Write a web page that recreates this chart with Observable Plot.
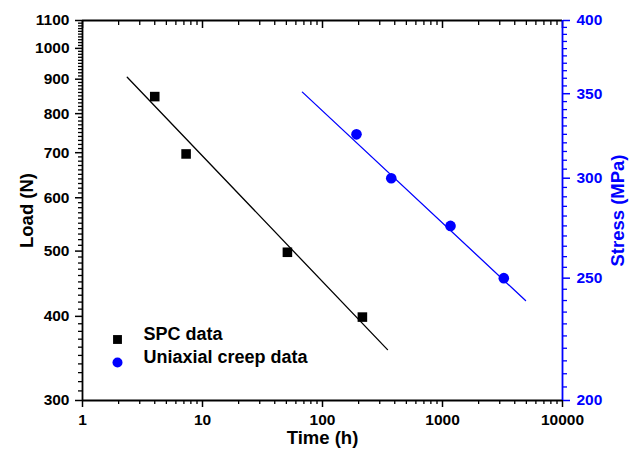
<!DOCTYPE html>
<html><head><meta charset="utf-8">
<script src="https://cdn.jsdelivr.net/npm/d3@7"></script>
<script src="https://cdn.jsdelivr.net/npm/@observablehq/plot@0.6"></script>
<style>body{margin:0;background:#fff;font-family:"Liberation Sans",Arial,sans-serif}</style>
</head><body><div id="chart"></div>
<script>
// ---- data ----
const spcTime = [4.0, 7.3, 51, 215];
const spcLoad = [848, 697, 498, 399];
const spcFitTime = [2.36, 348];
const spcFitLoad = [906, 357];
const creepTime = [192, 374, 1166, 3243];
const creepStress = [325, 300, 275, 250];
const creepFitTime = [68, 4920];
const creepFitStress = [351, 240];
const xTicks = [1, 10, 100, 1000, 10000];
const loadTicks = [300, 400, 500, 600, 700, 800, 900, 1000, 1100];
const stressTicks = [200, 250, 300, 350, 400];
const legendLabels = ["SPC data", "Uniaxial creep data"];
const xTitle = "Time (h)", yTitle = "Load (N)", y2Title = "Stress (MPa)";

const loadDomain = [300, 1100], stressDomain = [200, 400];
const toLoad = s => loadDomain[0] * Math.pow(loadDomain[1] / loadDomain[0], Math.log(s / stressDomain[0]) / Math.log(stressDomain[1] / stressDomain[0]));
const toStress = l => stressDomain[0] * Math.pow(stressDomain[1] / stressDomain[0], Math.log(l / loadDomain[0]) / Math.log(loadDomain[1] / loadDomain[0]));

// minor tick positions
const xMinor = [];
for (const dec of [1, 10, 100, 1000]) for (let k = 2; k <= 9; k++) xMinor.push(dec * k);
const loadMinor = d3.range(310, 1100, 10).filter(v => v % 100 !== 0);
const stressMinor = d3.range(205, 400, 5).filter(v => v % 50 !== 0).map(toLoad);

const spc = spcTime.map((t, i) => ({t, v: spcLoad[i]}));
const spcFit = spcFitTime.map((t, i) => ({t, v: spcFitLoad[i]}));
const creep = creepTime.map((t, i) => ({t, v: toLoad(creepStress[i])}));
const creepFit = creepFitTime.map((t, i) => ({t, v: toLoad(creepFitStress[i])}));

const BLUE = "#0000ff";
const FONT = '"Liberation Sans", Arial, sans-serif';
const blank = () => "";

const chart = Plot.plot({
  width: 631, height: 455,
  marginLeft: 82, marginRight: 69, marginTop: 20, marginBottom: 55,
  style: {fontFamily: FONT, fontWeight: "bold", background: "white", color: "black", overflow: "visible"},
  x: {type: "log", domain: [1, 10000]},
  y: {type: "log", domain: loadDomain},
  marks: [
    // bottom axis
    Plot.axisX(xMinor, {anchor: "bottom", tickSize: 4, tickFormat: blank, label: null, strokeWidth: 1.3}),
    Plot.axisX(xTicks, {anchor: "bottom", tickSize: 7, tickPadding: 6, tickFormat: d => String(d), label: null, fontSize: 15.5, strokeWidth: 1.5}),
    // top ticks (inward)
    Plot.axisX(xMinor, {anchor: "top", tickSize: -4, tickFormat: blank, label: null, strokeWidth: 1.3}),
    Plot.axisX(xTicks, {anchor: "top", tickSize: -7, tickFormat: blank, label: null, strokeWidth: 1.5}),
    // left axis
    Plot.axisY(loadMinor, {anchor: "left", tickSize: 4, tickFormat: blank, label: null, strokeWidth: 1.3}),
    Plot.axisY(loadTicks, {anchor: "left", tickSize: 7, tickPadding: 6, tickFormat: d => String(d), label: null, fontSize: 15.5, strokeWidth: 1.5}),
    // right axis (stress, log)
    Plot.axisY(stressMinor, {anchor: "right", tickSize: 4, tickFormat: blank, label: null, stroke: BLUE, strokeWidth: 1.3}),
    Plot.axisY(stressTicks.map(toLoad), {anchor: "right", tickSize: 7, tickPadding: 7, tickFormat: d => String(Math.round(toStress(d))), label: null, fontSize: 15.5, stroke: BLUE, fill: BLUE, strokeWidth: 1.5}),
    // frame
    Plot.ruleY(loadDomain, {stroke: "black", strokeWidth: 1.8}),
    Plot.ruleX([1], {stroke: "black", strokeWidth: 1.8}),
    Plot.ruleX([10000], {stroke: BLUE, strokeWidth: 1.8}),
    // fits
    Plot.line(spcFit, {x: "t", y: "v", stroke: "black", strokeWidth: 1.3}),
    Plot.line(creepFit, {x: "t", y: "v", stroke: BLUE, strokeWidth: 1.3}),
    // data
    Plot.dot(spc, {x: "t", y: "v", symbol: "square", r: 5.4, fill: "black", stroke: "none"}),
    Plot.dot(creep, {x: "t", y: "v", symbol: "circle", r: 5.3, fill: BLUE, stroke: "none"}),
    // legend
    Plot.dot([legendLabels[0]], {frameAnchor: "bottom-left", dx: 35, dy: -61, symbol: "square", r: 5, fill: "black", stroke: "none"}),
    Plot.dot([legendLabels[1]], {frameAnchor: "bottom-left", dx: 35, dy: -38, symbol: "circle", r: 5, fill: BLUE, stroke: "none"}),
    Plot.text([legendLabels[0]], {frameAnchor: "bottom-left", dx: 61, dy: -61, text: d => d, textAnchor: "start", fontSize: 18, fontWeight: "bold", fill: "black"}),
    Plot.text([legendLabels[1]], {frameAnchor: "bottom-left", dx: 61, dy: -38, text: d => d, textAnchor: "start", fontSize: 18, fontWeight: "bold", fill: "black"}),
    // axis titles
    Plot.text([xTitle], {frameAnchor: "bottom", dy: 43, text: d => d, textAnchor: "middle", fontSize: 18.5, fontWeight: "bold", fill: "black"}),
    Plot.text([yTitle], {frameAnchor: "left", dx: -55, rotate: -90, text: d => d, textAnchor: "middle", fontSize: 18.5, fontWeight: "bold", fill: "black"}),
    Plot.text([y2Title], {frameAnchor: "right", dx: 56, rotate: -90, text: d => d, textAnchor: "middle", fontSize: 18.5, fontWeight: "bold", fill: BLUE})
  ]
});
document.getElementById("chart").append(chart);
</script>
</body></html>
